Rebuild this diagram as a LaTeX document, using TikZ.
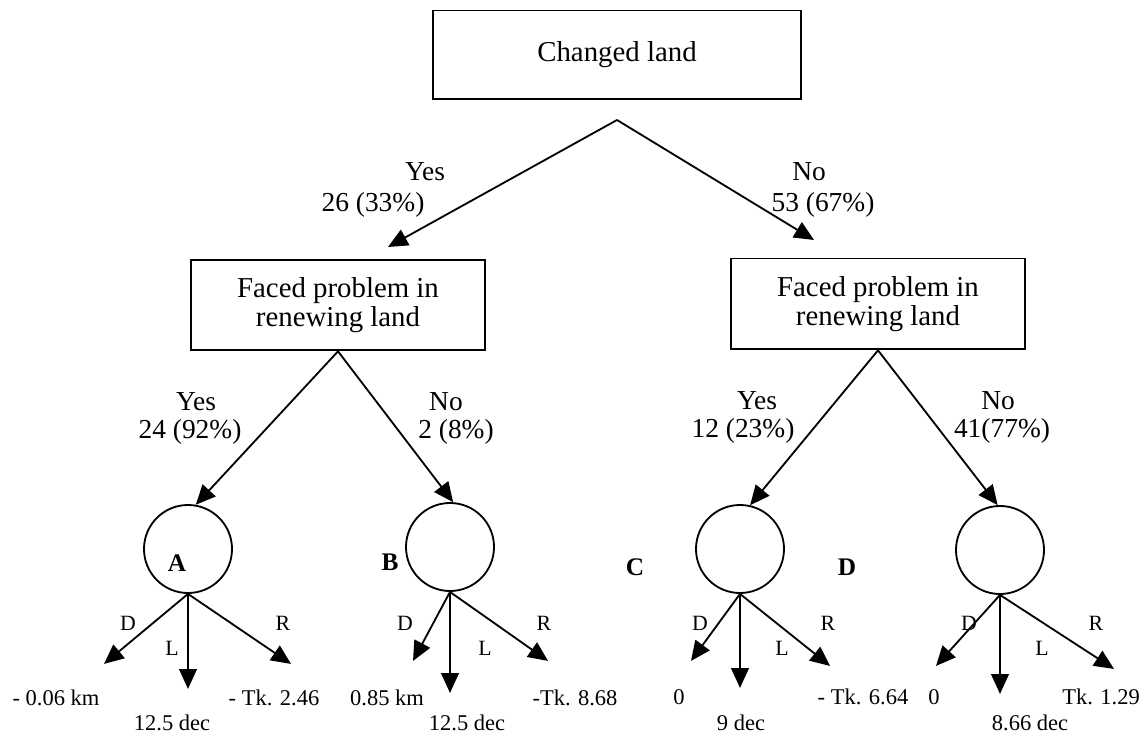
\documentclass[tikz,border=0pt]{standalone}
\usepackage{fontspec}
\setmainfont{Liberation Serif}
\usetikzlibrary{arrows.meta,positioning}
\tikzset{
  qbox/.style={draw,line width=1.3pt,align=center,inner sep=0pt,font=\fontsize{20.5}{21}\selectfont},
  topbox/.style={qbox,minimum width=9.2cm,minimum height=2.22cm},
  midbox/.style={qbox,minimum width=7.35cm,minimum height=2.27cm},
  outcome/.style={draw,line width=1.3pt,circle,inner sep=0pt,minimum size=2.2cm},
  branch/.style={line width=1.3pt,-{Triangle[length=14pt,width=12.5pt]}},
  blabel/.style={align=center,inner sep=0pt,font=\fontsize{19.5}{21.5}\selectfont},
  dlabel/.style={inner sep=0pt,font=\fontsize{15.5}{17}\selectfont},
  vlabel/.style={inner sep=0pt,font=\fontsize{16}{18}\selectfont},
  tag/.style={inner sep=0pt,font=\fontsize{18}{20}\selectfont\bfseries}
}
\begin{document}
\begin{tikzpicture}[x=0.025cm,y=-0.025cm]
\useasboundingbox (0,0) rectangle (1144,734);
% first split
\node[topbox] (top) at (617,55) {Changed land};
\coordinate (fork) at (617,120);
\coordinate (yestip) at (388,247);
\coordinate (notip) at (814,240);
\draw[branch] (fork) -- (yestip);
\draw[branch] (fork) -- (notip);
\node[blabel] (yes1) at (425,172) {Yes};
\node[blabel] (n1) at (373,205) {26 (33\%)};
\node[blabel] (no1) at (809,172) {No};
\node[blabel] (n2) at (823,205) {53 (67\%)};
% second split
\node[midbox] (left) at (338,305) {Faced problem in\\renewing land};
\node[midbox] (right) at (878,304) {Faced problem in\\renewing land};
\node[outcome] (A) at (188,549) {};
\node[outcome] (B) at (450,547) {};
\node[outcome] (C) at (740,549) {};
\node[outcome] (D) at (1000,550) {};
\draw[branch] (left.south) -- (A.80);
\draw[branch] (left.south) -- (B.86);
\draw[branch] (right.south) -- (C.77);
\draw[branch] (right.south) -- (D.93);
\node[blabel] (yes2) at (196,402) {Yes};
\node[blabel] (n3) at (190,432) {24 (92\%)};
\node[blabel] (no2) at (446,402) {No};
\node[blabel] (n4) at (456,432) {2 (8\%)};
\node[blabel] (yes3) at (757,401) {Yes};
\node[blabel] (n5) at (743,431) {12 (23\%)};
\node[blabel] (no3) at (998,401) {No};
\node[blabel] (n6) at (1002,431) {41(77\%)};
\node[tag] (tA) at (177,563) {A};
\node[tag] (tB) at (390,562) {B};
\node[tag] (tC) at (635,567) {C};
\node[tag] (tD) at (847,567) {D};
% distance, land, rent
\foreach \c/\dx/\dy/\ly/\rx/\ry in {A/-84/70/95/103/70, B/-37/69/101/98/69,
    C/-49/67/94/90/72, D/-64/71/99/114/74}{
  \draw[branch] (\c.south) -- ++(\dx,\dy) coordinate (\c d);
  \draw[branch] (\c.south) -- ++(0,\ly) coordinate (\c l);
  \draw[branch] (\c.south) -- ++(\rx,\ry) coordinate (\c r);
}
\node[dlabel] at (128,623) {D};
\node[dlabel] at (172,648) {L};
\node[dlabel] at (283,623) {R};
\node[dlabel] at (405,623) {D};
\node[dlabel] at (485,648) {L};
\node[dlabel] at (544,623) {R};
\node[dlabel] at (700,623) {D};
\node[dlabel] at (782,648) {L};
\node[dlabel] at (828,623) {R};
\node[dlabel] at (969,623) {D};
\node[dlabel] at (1042,648) {L};
\node[dlabel] at (1096,623) {R};
\node[vlabel] at (56,698) {- 0.06 km};
\node[vlabel] at (172,723) {12.5 dec};
\node[vlabel] at (274,698) {- Tk. 2.46};
\node[vlabel] at (387,698) {0.85 km};
\node[vlabel] at (467,723) {12.5 dec};
\node[vlabel] at (575,698) {-Tk. 8.68};
\node[vlabel] at (679,697) {0};
\node[vlabel] at (741,723) {9 dec};
\node[vlabel] at (863,697) {- Tk. 6.64};
\node[vlabel] at (934,697) {0};
\node[vlabel] at (1030,723) {8.66 dec};
\node[vlabel] at (1101,697) {Tk. 1.29};
\end{tikzpicture}
\end{document}
